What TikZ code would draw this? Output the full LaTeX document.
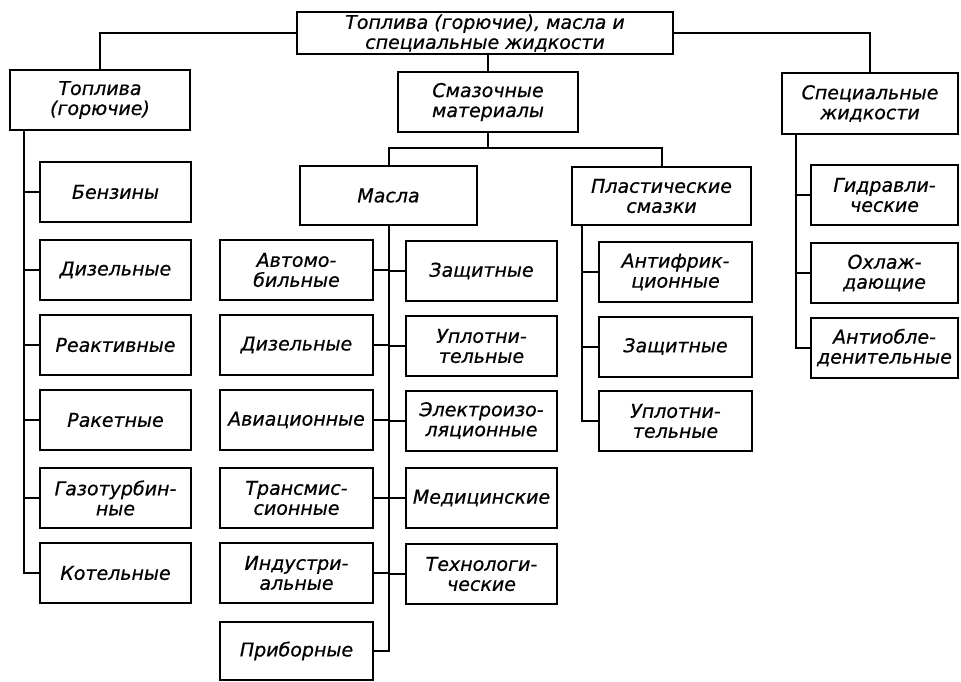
\documentclass[tikz,border=0pt]{standalone}
\usepackage{fontspec}
\setmainfont{DejaVu Sans}[ItalicFeatures={FakeBold=0.6}]
\begin{document}
\begin{tikzpicture}[x=1pt,y=-1pt,
  box/.style={draw,line width=2pt,inner sep=0pt,align=center,
    font=\fontsize{19}{20}\selectfont\itshape},
  conn/.style={line width=2pt}]
\useasboundingbox (0,0) rectangle (961,681);
% level 0 and 1
\node[box,minimum width=376pt,minimum height=42pt] (top) at (485,33) {Топлива (горючие), масла и\\специальные жидкости};
\node[box,minimum width=180pt,minimum height=60pt] (fuel) at (100,100) {Топлива\\(горючие)};
\node[box,minimum width=180pt,minimum height=60pt] (lub) at (488,102) {Смазочные\\материалы};
\node[box,minimum width=176pt,minimum height=61pt] (spec) at (870,103.5) {Специальные\\жидкости};
% fuels
\tikzset{fc/.style={box,minimum width=151pt,minimum height=60pt}}
\node[fc] (f1) at (115.5,192) {Бензины};
\node[fc] (f2) at (115.5,270) {Дизельные};
\node[fc] (f3) at (115.5,345) {Реактивные};
\node[fc] (f4) at (115.5,420) {Ракетные};
\node[fc] (f5) at (115.5,498) {Газотурбин-\\ные};
\node[fc] (f6) at (115.5,573) {Котельные};
% lubricants
\node[box,minimum width=177pt,minimum height=59pt] (oil) at (388.5,195.5) {Масла};
\node[box,minimum width=179pt,minimum height=58pt] (grease) at (661.5,196) {Пластические\\смазки};
\tikzset{ol/.style={box,minimum width=153pt,minimum height=60pt},
         orr/.style={box,minimum width=151pt,minimum height=60pt}}
\node[ol] (o1) at (296.5,270) {Автомо-\\бильные};
\node[ol] (o2) at (296.5,345) {Дизельные};
\node[ol] (o3) at (296.5,420) {Авиационные};
\node[ol] (o4) at (296.5,498) {Трансмис-\\сионные};
\node[ol] (o5) at (296.5,573) {Индустри-\\альные};
\node[ol,minimum height=58pt] (o6) at (296.5,651) {Приборные};
\node[orr] (p1) at (481.5,271) {Защитные};
\node[orr] (p2) at (481.5,346) {Уплотни-\\тельные};
\node[orr] (p3) at (481.5,420.5) {Электроизо-\\ляционные};
\node[orr] (p4) at (481.5,498) {Медицинские};
\node[orr] (p5) at (481.5,574) {Технологи-\\ческие};
\tikzset{gc/.style={box,minimum width=153pt,minimum height=60pt}}
\node[gc] (g1) at (675.5,272) {Антифрик-\\ционные};
\node[gc] (g2) at (675.5,346.5) {Защитные};
\node[gc] (g3) at (675.5,421) {Уплотни-\\тельные};
% special fluids
\tikzset{sc/.style={box,minimum width=147pt,minimum height=60pt}}
\node[sc] (s1) at (884.5,195) {Гидравли-\\ческие};
\node[sc] (s2) at (884.5,273) {Охлаж-\\дающие};
\node[sc] (s3) at (884.5,347.5) {Антиобле-\\денительные};
% connectors level 0
\draw[conn] (top.west) -| (fuel.north);
\draw[conn] (top.east) -| (spec.north);
\draw[conn] (top.south -| lub.north) -- (lub.north);
% fuels trunk
\coordinate (ft) at (24,130);
\draw[conn] (ft) |- (f6.west);
\foreach \n in {f1,f2,f3,f4,f5} \draw[conn] (ft |- \n.west) -- (\n.west);
% lubricants
\coordinate (lj) at (488,148);
\draw[conn] (lub.south) -- (lj);
\draw[conn] (oil.north) |- (lj) -| (grease.north);
% oils trunk
\draw[conn] (oil.south) |- (o6.east);
\foreach \n in {o1,o2,o3,o4,o5} \draw[conn] (\n.east) -- (oil.south |- \n.east);
\foreach \n in {p1,p2,p3,p4,p5} \draw[conn] (oil.south |- \n.west) -- (\n.west);
% greases trunk
\coordinate (gt) at (582,225);
\draw[conn] (gt) |- (g3.west);
\foreach \n in {g1,g2} \draw[conn] (gt |- \n.west) -- (\n.west);
% special trunk
\coordinate (st) at (796,134);
\draw[conn] (st) |- (s3.west);
\foreach \n in {s1,s2} \draw[conn] (st |- \n.west) -- (\n.west);
\end{tikzpicture}
\end{document}
